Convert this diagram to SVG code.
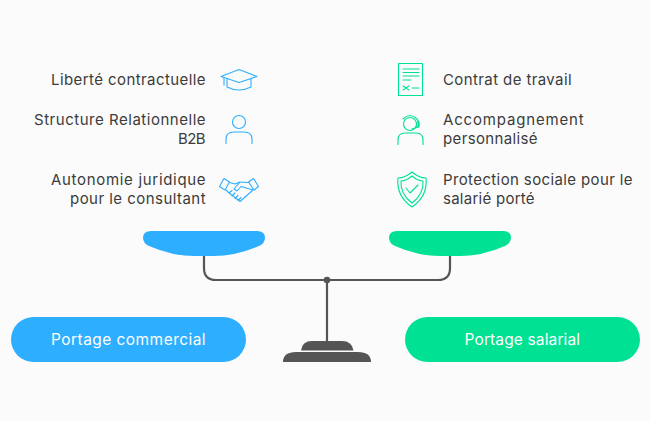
<svg xmlns="http://www.w3.org/2000/svg" width="650" height="421" viewBox="0 0 650 421">
<style>
text{font-family:"Inter","Noto Sans",sans-serif;font-size:15px;letter-spacing:.42px;fill:#3c3c3c}
.e{text-anchor:end}
.b{font-size:15.5px;fill:#fff;text-anchor:middle;letter-spacing:.42px}
.ib,.ig{fill:none;stroke-width:1.1;stroke-linecap:round;stroke-linejoin:round}
.ib{stroke:#2eaefe}.ig{stroke:#00e193}
.dk{fill:#555}
.ln{fill:none;stroke:#555;stroke-width:2.2}
</style>
<rect width="650" height="421" fill="#fbfbfb"/>
<g id="connectors">
<path class="ln" d="M204 255V268Q204 280 216 280H438Q450 280 450 268V255"/>
<path class="ln" d="M327 280V342"/>
</g>
<g id="pan-left"><path fill="#2eaefe" d="M151 231H257Q265 231 265 238Q265 243 259 246Q236 256 214 256H194Q172 256 149 246Q143 243 143 238Q143 231 151 231Z"/></g>
<g id="pan-right"><path fill="#00e193" d="M397 231H503Q511 231 511 238Q511 243 505 246Q482 256 460 256H440Q418 256 395 246Q389 243 389 238Q389 231 397 231Z"/></g>
<g id="pivot"><circle class="dk" cx="327" cy="280" r="3.300"/></g>
<g id="base">
<path class="dk" d="M301 350.500Q302 341 312 341H342Q352 341 353.500 350.500Z"/>
<path class="dk" d="M283 362Q283 352 296 352H358Q371 352 371 362Z"/>
</g>
<g id="portage-commercial"><rect x="11" y="317" width="235" height="45" rx="22.500" fill="#2eaefe"/><text class="b" x="128.500" y="345" textLength="155">Portage commercial</text></g>
<g id="portage-salarial"><rect x="405" y="317" width="235" height="45" rx="22.500" fill="#00e193"/><text class="b" x="522.500" y="345" textLength="116">Portage salarial</text></g>
<g id="liberte"><text class="e" x="206" y="85" textLength="155">Liberté contractuelle</text>
<path class="ib" d="M221 76.500L239 69.500L257 76.500L239 82.500Z"/><path class="ib" d="M227 79V87Q239 93 251 87V79M224 77.500V85"/></g>
<g id="structure"><text class="e" x="206" y="125" textLength="172">Structure Relationnelle</text><text class="e" x="206" y="144" textLength="28">B2B</text>
<circle class="ib" cx="239" cy="122" r="6.500"/><path class="ib" d="M226 143.500V139Q226 132 234 132H244Q252 132 252 139V143.500"/></g>
<g id="autonomie"><text class="e" x="206" y="185" textLength="155">Autonomie juridique</text><text class="e" x="206" y="204" textLength="136">pour le consultant</text>
<path class="ib" d="M219.500 186.500L224 178.500L229.500 182L225 190ZM248.500 182L253.500 178.500L258.500 186.500L254 190Z"/>
<path class="ib" d="M229.500 182.500L235 184L240 182L248.500 182.500M240 182L234 189L237 191L241 186.500L253 190M226 190L228 192L240 201.500L253 190M229 193L232 190.500M232 196L235 193M235 198.500L238 195.500M238 200.500L241 197.500"/></g>
<g id="contrat"><text x="443" y="85" textLength="129">Contrat de travail</text>
<rect class="ig" x="398.500" y="63.500" width="24" height="32"/><path class="ig" d="M403 69H419M403 72.500H419M403 76H419M403 80H411M403 86L409 90M409 86L403 90M412 88H419"/></g>
<g id="accompagnement"><text x="443" y="125" textLength="141">Accompagnement</text><text x="443" y="144" textLength="95">personnalisé</text>
<circle class="ig" cx="410" cy="124" r="6.500"/><path class="ig" d="M403 119Q410 112 417 119Q420 122 418 127L412 129M398 144.500V140Q398 133 405 133H416Q423 133 423 140V144.500"/><rect class="ig" x="417" y="122" width="2" height="5"/></g>
<g id="protection"><text x="443" y="185" textLength="190">Protection sociale pour le</text><text x="443" y="204" textLength="92">salarié porté</text>
<path class="ig" d="M412 172Q405 178 398 178Q396 196 412 207Q428 196 426 178Q419 178 412 172Z"/><path class="ig" d="M412 176Q406 181 401 181Q400 194 412 203Q424 194 423 181Q418 181 412 176Z"/><path class="ig" d="M406 188L410 193L418 185"/></g>
</svg>
